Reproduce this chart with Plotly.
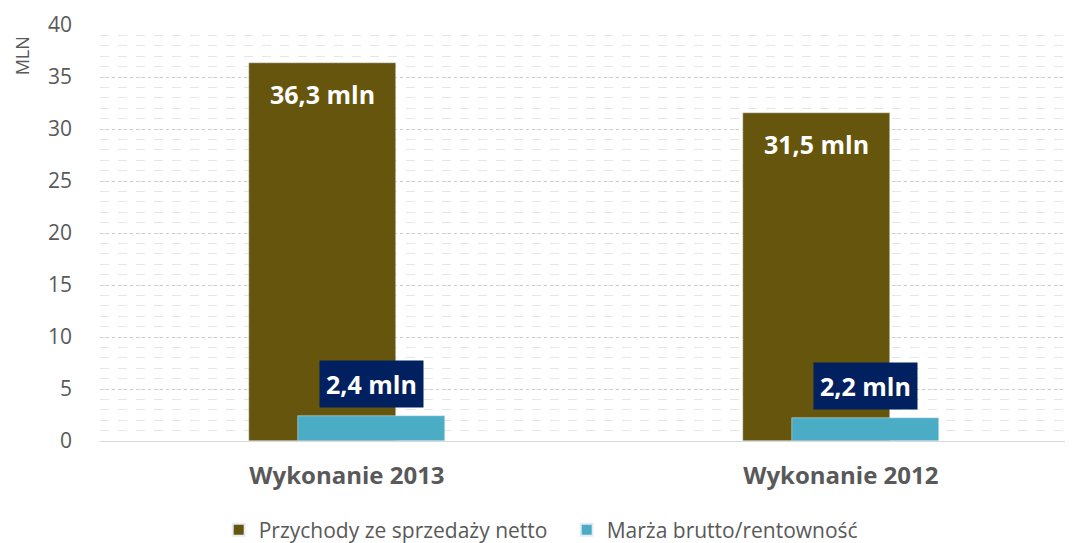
import plotly.graph_objects as go

categories = ["Wykonanie 2013", "Wykonanie 2012"]
revenue = [36.3, 31.5]
margin = [2.4, 2.2]
revenue_labels = ["36,3 mln", "31,5 mln"]
margin_labels = ["2,4 mln", "2,2 mln"]
series_names = ["Przychody ze sprzedaży netto", "Marża brutto/rentowność"]
y_ticks = [0, 5, 10, 15, 20, 25, 30, 35, 40]

OLIVE = "#66550C"
CYAN = "#4BACC6"
NAVY = "#002060"
GRAY = "#595959"
FONT = "Open Sans"

xpos = list(range(len(categories)))
bw = 0.298

fig = go.Figure()
fig.add_trace(go.Bar(x=xpos, y=revenue, name=series_names[0], marker_color=OLIVE,
                     width=bw, offset=-0.05 - bw / 2, hoverinfo="y"))
fig.add_trace(go.Bar(x=xpos, y=margin, name=series_names[1], marker_color=CYAN,
                     width=bw, offset=0.05 - bw / 2, hoverinfo="y"))

for i, x in enumerate(xpos):
    fig.add_annotation(x=x - 0.05, y=revenue[i], text="<b>" + revenue_labels[i] + "</b>",
                       showarrow=False, yanchor="top", yshift=-12,
                       font=dict(family=FONT, size=25, color="white"))
    fig.add_annotation(x=x + 0.05, y=margin[i], text="<b>" + margin_labels[i] + "</b>",
                       showarrow=False, yanchor="bottom", yshift=8,
                       bgcolor=NAVY, borderpad=6,
                       font=dict(family=FONT, size=25, color="white"))

fig.add_annotation(xref="paper", yref="paper", x=-0.080, y=0.925, text="MLN",
                   textangle=-90, showarrow=False, xanchor="center", yanchor="middle",
                   font=dict(family=FONT, size=18, color=GRAY))

fig.update_layout(
    width=1065, height=535,
    margin=dict(l=92, r=0, t=17, b=102, autoexpand=False),
    plot_bgcolor="white", paper_bgcolor="white",
    barmode="overlay", bargap=0,
    font=dict(family=FONT, color=GRAY),
    showlegend=True,
    legend=dict(orientation="h", x=0.122, xanchor="left", y=-0.214, yanchor="middle",
                font=dict(family=FONT, size=21, color=GRAY), itemsizing="constant",
                traceorder="normal", itemwidth=30, entrywidth=303),
    xaxis=dict(tickmode="array", tickvals=xpos,
               ticktext=["<b>" + c + "</b>" for c in categories],
               range=[-0.5, 1.47], showgrid=False, showline=True, linecolor="#D9D9D9",
               linewidth=1, ticks="", ticklabelstandoff=13, automargin=False,
               tickfont=dict(family=FONT, size=24, color=GRAY)),
    yaxis=dict(range=[0, 40], tickmode="array", tickvals=y_ticks,
               showgrid=True, gridcolor="#CCCCCC", gridwidth=1, griddash="dot",
               minor=dict(dtick=1, showgrid=True, gridcolor="#E6E6E6", griddash="dash"),
               zeroline=False, showline=False, ticks="", ticklabelstandoff=27,
               automargin=False,
               tickfont=dict(family=FONT, size=21, color=GRAY)),
)

fig.write_html("out.html")
